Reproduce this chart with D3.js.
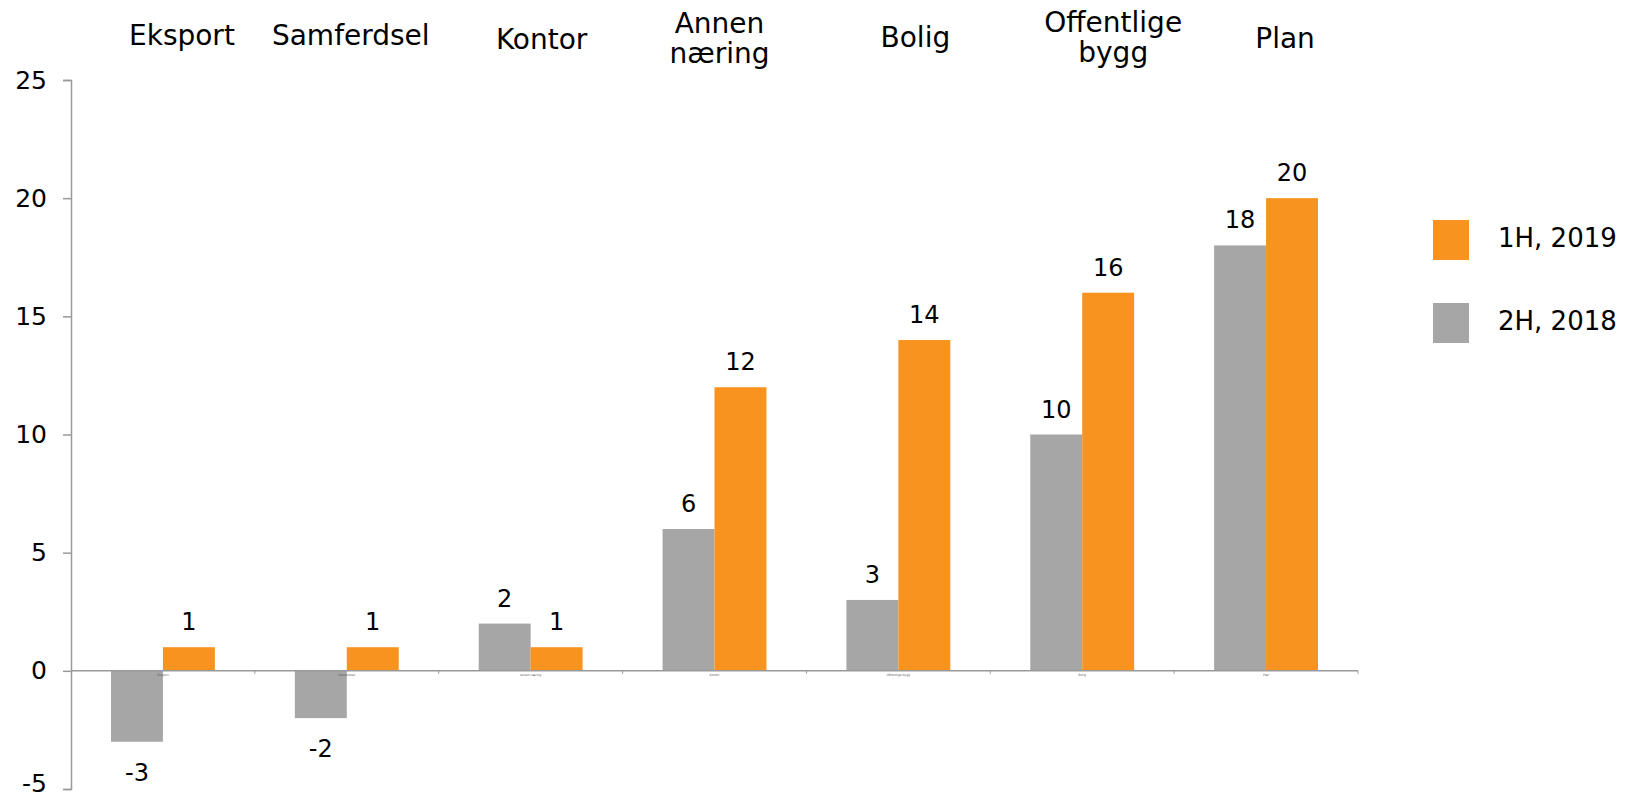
<!DOCTYPE html>
<html>
<head>
<meta charset="utf-8">
<script src="https://cdn.jsdelivr.net/npm/d3@7/dist/d3.min.js"></script>
<style>
  html, body { margin: 0; padding: 0; background: #fff; }
  svg { display: block; font-family: "DejaVu Sans", Verdana, sans-serif; }
</style>
</head>
<body>
<svg id="chart" width="1639" height="798"></svg>
<script>
// ---- data ----
const categories = ["Eksport", "Samferdsel", "Kontor", "Annen næring", "Bolig", "Offentlige bygg", "Plan"];
const headerLines = [["Eksport"], ["Samferdsel"], ["Kontor"], ["Annen", "næring"], ["Bolig"], ["Offentlige", "bygg"], ["Plan"]];
const axisCategoryLabels = ["Eksport", "Samferdsel", "Annen næring", "Kontor", "Offentlige bygg", "Bolig", "Plan"];
const seriesNames = ["2H, 2018", "1H, 2019"];
const values2H2018 = [-3, -2, 2, 6, 3, 10, 18];
const values1H2019 = [1, 1, 1, 12, 14, 16, 20];
const yTicks = [-5, 0, 5, 10, 15, 20, 25];

// ---- layout ----
const colors = { "2H, 2018": "#A6A6A6", "1H, 2019": "#F7931E" };
const axisColor = "#9A9A9A";
const plot = { left: 71, right: 1358, top: 80, bottom: 789 };
const headerDx = [19, 4, 11, 5, 17, 31, 19];
const headerBaseline = [45, 45, 49, 33, 47, 32, 48];

const svg = d3.select("#chart");

const x = d3.scaleBand().domain(categories).range([plot.left, plot.right])
  .paddingInner(0.435).paddingOuter(0.2175);
const xs = d3.scaleBand().domain(seriesNames).range([0, x.bandwidth()]).padding(0);
const y = d3.scaleLinear().domain([-5, 25]).range([plot.bottom, plot.top]);

const rows = categories.map((c, i) => ({
  cat: c,
  vals: [
    { s: "2H, 2018", v: values2H2018[i] },
    { s: "1H, 2019", v: values1H2019[i] }
  ]
}));

// bars
const g = svg.append("g");
const groups = g.selectAll("g.cat").data(rows).enter().append("g")
  .attr("transform", d => `translate(${x(d.cat)},0)`);
groups.selectAll("rect").data(d => d.vals).enter().append("rect")
  .attr("x", d => xs(d.s))
  .attr("width", xs.bandwidth())
  .attr("y", d => y(Math.max(0, d.v)))
  .attr("height", d => Math.abs(y(d.v) - y(0)))
  .attr("fill", d => colors[d.s]);

// value labels
groups.selectAll("text.val").data(d => d.vals).enter().append("text")
  .attr("class", "val")
  .attr("x", d => xs(d.s) + xs.bandwidth() / 2)
  .attr("y", d => d.v >= 0 ? y(d.v) - 17 : y(d.v) + 39)
  .attr("text-anchor", "middle")
  .attr("font-size", 24)
  .attr("fill", "#000")
  .text(d => String(d.v));

// y axis
const yAxis = d3.axisLeft(y).tickValues(yTicks).tickSize(8).tickPadding(16).tickFormat(d => String(d));
const yg = svg.append("g").attr("transform", `translate(${plot.left},0)`).call(yAxis);
yg.select(".domain").attr("stroke", axisColor).attr("stroke-width", 1.5);
yg.selectAll(".tick line").attr("stroke", axisColor).attr("stroke-width", 1.5);
yg.selectAll(".tick text").attr("font-size", 25).attr("fill", "#000")
  .attr("font-family", "DejaVu Sans, Verdana, sans-serif");
// keep the lowest tick label inside the canvas
yg.selectAll(".tick").filter(d => d === yTicks[0]).select("text").attr("dy", "0.1em");

// x axis (zero line)
const xAxisLine = svg.append("g");
xAxisLine.append("line")
  .attr("x1", plot.left).attr("x2", plot.right)
  .attr("y1", y(0)).attr("y2", y(0))
  .attr("stroke", axisColor).attr("stroke-width", 1.5);
const boundaries = categories.slice(1).map((c, i) => plot.left + (i + 1) * (plot.right - plot.left) / categories.length);
boundaries.push(plot.right);
xAxisLine.selectAll("line.tk").data(boundaries).enter().append("line")
  .attr("class", "tk")
  .attr("x1", d => d).attr("x2", d => d)
  .attr("y1", y(0)).attr("y2", y(0) + 3)
  .attr("stroke", axisColor).attr("stroke-width", 1);
// tiny category labels along the zero line
xAxisLine.selectAll("text").data(axisCategoryLabels).enter().append("text")
  .attr("x", (d, i) => x(categories[i]) + x.bandwidth() / 2)
  .attr("y", y(0) + 5)
  .attr("text-anchor", "middle")
  .attr("font-size", 3)
  .attr("fill", "#595959")
  .text(d => d);

// category headers at top
headerLines.forEach((lines, i) => {
  const cx = x(categories[i]) + x.bandwidth() / 2 + headerDx[i];
  const t = svg.append("text")
    .attr("text-anchor", "middle")
    .attr("font-size", 28)
    .attr("fill", "#000");
  lines.forEach((ln, j) => {
    t.append("tspan").attr("x", cx).attr("y", headerBaseline[i] + j * 30).text(ln);
  });
});

// legend
const legendItems = ["1H, 2019", "2H, 2018"];
const lg = svg.append("g");
legendItems.forEach((name, i) => {
  const top = 220 + i * 83;
  lg.append("rect").attr("x", 1433).attr("y", top).attr("width", 36).attr("height", 40)
    .attr("fill", colors[name]);
  lg.append("text").attr("x", 1498).attr("y", top + 27)
    .attr("font-size", 26).attr("fill", "#000").text(name);
});
</script>
</body>
</html>
